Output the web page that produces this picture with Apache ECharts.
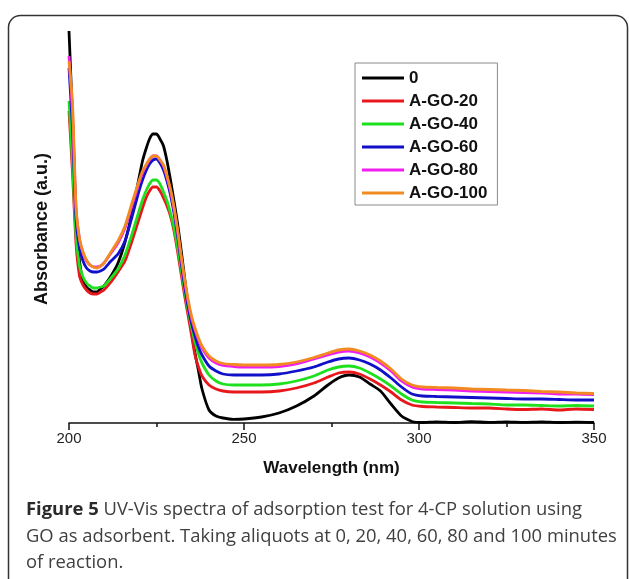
<!DOCTYPE html>
<html>
<head>
<meta charset="utf-8">
<script src="https://cdn.jsdelivr.net/npm/echarts@6/dist/echarts.min.js"></script>
<style>
  html, body { margin: 0; padding: 0; background: #fff; }
  #chart { width: 629px; height: 579px; }
</style>
</head>
<body>
<div id="chart"></div>
<script>
// wavelengths (nm) shared by every spectrum
var wavelength = [200, 201, 202, 203, 204, 205, 206, 207, 208, 209, 210,
  212, 214, 216, 218, 220, 221, 222, 223, 224, 225, 226, 227, 228, 229, 230,
  231, 232, 233, 234, 235, 236, 237, 238, 240, 242, 244,
  247, 250, 255, 260, 265, 270, 274, 277, 280, 283, 286, 289, 292, 295, 298,
  301, 305, 310, 315, 320, 325, 330, 335, 340, 345, 350];

// absorbance (a.u.)
var abs0 = [3.92, 3.05, 2.05, 1.62, 1.42, 1.36, 1.33, 1.31, 1.31, 1.34, 1.37,
  1.47, 1.60, 1.81, 2.10, 2.45, 2.62, 2.74, 2.84, 2.89, 2.89, 2.84, 2.77, 2.62, 2.43, 2.22,
  2.00, 1.74, 1.46, 1.17, 0.92, 0.70, 0.52, 0.34, 0.13, 0.07, 0.05,
  0.037, 0.04, 0.06, 0.10, 0.17, 0.27, 0.38, 0.45, 0.48, 0.46, 0.39, 0.32, 0.19, 0.07, 0.015,
  0.005, 0.012, 0.005, 0.014, 0.006, 0.012, 0.007, 0.012, 0.005, 0.009, 0.005];
var abs20 = [3.12, 2.50, 1.80, 1.47, 1.38, 1.33, 1.30, 1.29, 1.29, 1.31, 1.33,
  1.41, 1.51, 1.62, 1.82, 2.04, 2.15, 2.25, 2.32, 2.36, 2.36, 2.32, 2.25, 2.17, 2.07, 1.92,
  1.72, 1.50, 1.28, 1.08, 0.88, 0.68, 0.56, 0.47, 0.38, 0.34, 0.32,
  0.31, 0.31, 0.31, 0.32, 0.35, 0.40, 0.46, 0.50, 0.51, 0.49, 0.44, 0.38, 0.31, 0.23, 0.18,
  0.165, 0.16, 0.155, 0.15, 0.15, 0.14, 0.135, 0.14, 0.13, 0.14, 0.135];
var abs40 = [3.22, 2.60, 1.88, 1.57, 1.46, 1.40, 1.37, 1.35, 1.35, 1.36, 1.37,
  1.45, 1.54, 1.68, 1.89, 2.12, 2.23, 2.32, 2.39, 2.43, 2.43, 2.39, 2.31, 2.22, 2.10, 1.95,
  1.76, 1.55, 1.33, 1.13, 0.96, 0.81, 0.69, 0.60, 0.48, 0.42, 0.39,
  0.38, 0.38, 0.38, 0.39, 0.42, 0.47, 0.53, 0.56, 0.57, 0.55, 0.50, 0.44, 0.37, 0.29, 0.23,
  0.21, 0.205, 0.20, 0.195, 0.19, 0.18, 0.18, 0.175, 0.17, 0.175, 0.17];
var abs60 = [3.55, 2.95, 2.05, 1.75, 1.62, 1.55, 1.52, 1.51, 1.51, 1.52, 1.54,
  1.62, 1.69, 1.82, 2.06, 2.32, 2.43, 2.52, 2.59, 2.63, 2.64, 2.60, 2.53, 2.42, 2.28, 2.10,
  1.88, 1.62, 1.38, 1.17, 1.00, 0.87, 0.76, 0.68, 0.57, 0.52, 0.49,
  0.48, 0.48, 0.48, 0.49, 0.52, 0.56, 0.61, 0.64, 0.65, 0.63, 0.59, 0.53, 0.45, 0.36, 0.29,
  0.27, 0.265, 0.26, 0.255, 0.25, 0.245, 0.24, 0.24, 0.235, 0.23, 0.23];
var abs80 = [3.67, 3.10, 2.15, 1.84, 1.70, 1.62, 1.58, 1.56, 1.56, 1.57, 1.60,
  1.70, 1.80, 1.95, 2.17, 2.40, 2.50, 2.57, 2.63, 2.67, 2.67, 2.63, 2.57, 2.46, 2.32, 2.14,
  1.92, 1.66, 1.43, 1.22, 1.05, 0.93, 0.83, 0.75, 0.65, 0.60, 0.575,
  0.565, 0.56, 0.56, 0.565, 0.59, 0.64, 0.68, 0.71, 0.72, 0.70, 0.66, 0.60, 0.52, 0.42, 0.36,
  0.34, 0.335, 0.33, 0.32, 0.315, 0.31, 0.305, 0.30, 0.29, 0.29, 0.285];
var abs100 = [3.62, 3.20, 2.17, 1.84, 1.71, 1.63, 1.58, 1.56, 1.55, 1.57, 1.60,
  1.71, 1.82, 1.97, 2.20, 2.42, 2.52, 2.58, 2.64, 2.67, 2.67, 2.63, 2.58, 2.47, 2.34, 2.16,
  1.94, 1.68, 1.45, 1.24, 1.07, 0.95, 0.85, 0.77, 0.67, 0.62, 0.595,
  0.585, 0.58, 0.58, 0.585, 0.61, 0.655, 0.70, 0.73, 0.74, 0.72, 0.68, 0.62, 0.54, 0.44, 0.38,
  0.36, 0.355, 0.35, 0.34, 0.335, 0.33, 0.325, 0.315, 0.31, 0.30, 0.295];

var names = ['0', 'A-GO-20', 'A-GO-40', 'A-GO-60', 'A-GO-80', 'A-GO-100'];
var colors = ['#000000', '#e8171c', '#1fe01f', '#1010c8', '#f01ef0', '#f28a22'];
var spectra = [abs0, abs20, abs40, abs60, abs80, abs100];

function pairs(vals) {
  return wavelength.map(function (w, i) { return [w, vals[i]]; });
}

var chart = echarts.init(document.getElementById('chart'));

var series = spectra.map(function (vals, i) {
  return {
    name: names[i],
    type: 'line',
    data: pairs(vals),
    showSymbol: false,
    smooth: 0.2,
    lineStyle: { width: 2.8, color: colors[i] },
    itemStyle: { color: colors[i] }
  };
});

var option = {
  backgroundColor: '#fff',
  animation: false,
  grid: { left: 69, right: 35, top: 23, bottom: 156 },
  legend: {
    orient: 'vertical',
    left: 355,
    top: 63,
    padding: [5, 10, 2, 7],
    itemWidth: 42,
    itemHeight: 3,
    itemGap: 3,
    icon: 'rect',
    borderColor: '#8a8a8a',
    borderWidth: 1,
    textStyle: {
      fontFamily: 'Liberation Sans, Arial, sans-serif',
      fontSize: 17,
      fontWeight: 'bold',
      color: '#111',
      lineHeight: 20
    },
    data: names
  },
  xAxis: {
    type: 'value',
    min: 200,
    max: 350,
    interval: 50,
    name: 'Wavelength (nm)',
    nameLocation: 'middle',
    nameGap: 37,
    nameTextStyle: {
      fontFamily: 'Liberation Sans, Arial, sans-serif',
      fontSize: 17,
      fontWeight: 'bold',
      color: '#111'
    },
    axisLine: { lineStyle: { color: '#111', width: 1.5 } },
    axisTick: { length: 7, lineStyle: { color: '#111', width: 1.5 } },
    minorTick: { show: true, splitNumber: 2, length: 4, lineStyle: { color: '#111', width: 1.5 } },
    axisLabel: {
      fontFamily: 'Liberation Sans, Arial, sans-serif',
      fontSize: 15,
      color: '#222',
      margin: 8
    },
    splitLine: { show: false }
  },
  yAxis: {
    type: 'value',
    min: 0,
    max: 4,
    axisLine: { show: false },
    axisTick: { show: false },
    axisLabel: { show: false },
    splitLine: { show: false }
  },
  graphic: [
    {
      type: 'rect',
      shape: { x: 8.5, y: 15.5, width: 619, height: 620, r: 12 },
      style: { fill: 'none', stroke: '#333', lineWidth: 1.5 },
      silent: true
    },
    {
      type: 'text',
      x: 42,
      y: 229,
      rotation: Math.PI / 2,
      style: {
        text: 'Absorbance (a.u.)',
        fontFamily: 'Liberation Sans, Arial, sans-serif',
        fontSize: 18,
        fontWeight: 'bold',
        fill: '#111',
        align: 'center',
        verticalAlign: 'middle'
      }
    },
    {
      type: 'text',
      x: 26,
      y: 497,
      style: {
        text: '{b|Figure 5} UV-Vis spectra of adsorption test for 4-CP solution using\n' +
          'GO as adsorbent. Taking aliquots at 0, 20, 40, 60, 80 and 100 minutes\n' +
          'of reaction.',
        fontFamily: 'Open Sans, sans-serif',
        fontSize: 18.4,
        lineHeight: 26.5,
        fill: '#404040',
        rich: {
          b: {
            fontFamily: 'Open Sans, sans-serif',
            fontSize: 18.4,
            fontWeight: 'bold',
            lineHeight: 26.5,
            fill: '#2a2a2a'
          }
        }
      }
    }
  ],
  series: series
};

chart.setOption(option);
</script>
</body>
</html>
